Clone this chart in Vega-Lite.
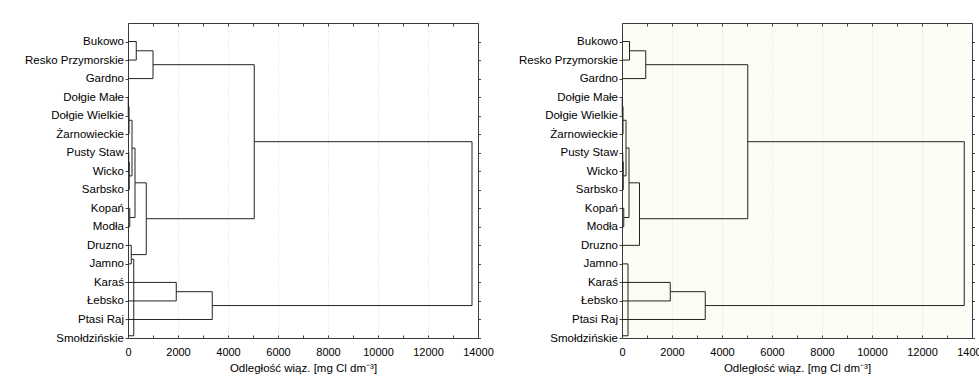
{
  "$schema": "https://vega.github.io/schema/vega-lite/v6.json",
  "autosize": {"type": "pad"},
  "padding": {"left": 23, "top": 22, "right": 5, "bottom": 0},
  "background": "white",
  "config": {"font": "Liberation Sans", "view": {"stroke": "#3a3a3a", "strokeWidth": 1}},
  "datasets": {
    "left": [
      {"x": 0, "x2": 330, "y": 0, "y2": 0}, {"x": 0, "x2": 330, "y": 1, "y2": 1}, {"x": 330, "x2": 330, "y": 0, "y2": 1},
      {"x": 330, "x2": 1000, "y": 0.5, "y2": 0.5}, {"x": 0, "x2": 1000, "y": 2, "y2": 2}, {"x": 1000, "x2": 1000, "y": 0.5, "y2": 2},
      {"x": 1000, "x2": 5050, "y": 1.25, "y2": 1.25},
      {"x": 0, "x2": 10, "y": 3, "y2": 3}, {"x": 0, "x2": 10, "y": 4, "y2": 4}, {"x": 10, "x2": 10, "y": 3, "y2": 4},
      {"x": 10, "x2": 40, "y": 3.5, "y2": 3.5}, {"x": 0, "x2": 40, "y": 5, "y2": 5}, {"x": 40, "x2": 40, "y": 3.5, "y2": 5},
      {"x": 0, "x2": 30, "y": 6, "y2": 6}, {"x": 0, "x2": 30, "y": 7, "y2": 7}, {"x": 30, "x2": 30, "y": 6, "y2": 7},
      {"x": 30, "x2": 50, "y": 6.5, "y2": 6.5}, {"x": 0, "x2": 50, "y": 8, "y2": 8}, {"x": 50, "x2": 50, "y": 6.5, "y2": 8},
      {"x": 40, "x2": 160, "y": 4.25, "y2": 4.25}, {"x": 50, "x2": 160, "y": 7.25, "y2": 7.25}, {"x": 160, "x2": 160, "y": 4.25, "y2": 7.25},
      {"x": 0, "x2": 70, "y": 9, "y2": 9}, {"x": 0, "x2": 70, "y": 10, "y2": 10}, {"x": 70, "x2": 70, "y": 9, "y2": 10},
      {"x": 160, "x2": 280, "y": 5.75, "y2": 5.75}, {"x": 70, "x2": 280, "y": 9.5, "y2": 9.5}, {"x": 280, "x2": 280, "y": 5.75, "y2": 9.5},
      {"x": 0, "x2": 130, "y": 11, "y2": 11}, {"x": 0, "x2": 130, "y": 12, "y2": 12}, {"x": 130, "x2": 130, "y": 11, "y2": 12},
      {"x": 280, "x2": 730, "y": 7.625, "y2": 7.625}, {"x": 130, "x2": 730, "y": 11.5, "y2": 11.5}, {"x": 730, "x2": 730, "y": 7.625, "y2": 11.5},
      {"x": 730, "x2": 5050, "y": 9.5625, "y2": 9.5625}, {"x": 5050, "x2": 5050, "y": 1.25, "y2": 9.5625},
      {"x": 5050, "x2": 13760, "y": 5.406, "y2": 5.406},
      {"x": 0, "x2": 1930, "y": 13, "y2": 13}, {"x": 0, "x2": 1930, "y": 14, "y2": 14}, {"x": 1930, "x2": 1930, "y": 13, "y2": 14},
      {"x": 1930, "x2": 3370, "y": 13.5, "y2": 13.5}, {"x": 0, "x2": 3370, "y": 15, "y2": 15}, {"x": 3370, "x2": 3370, "y": 13.5, "y2": 15},
      {"x": 3370, "x2": 13760, "y": 14.25, "y2": 14.25}, {"x": 13760, "x2": 13760, "y": 5.406, "y2": 14.25},
      {"x": 0, "x2": 230, "y": 15.88, "y2": 15.88}, {"x": 230, "x2": 230, "y": 11.75, "y2": 15.88}, {"x": 130, "x2": 230, "y": 11.75, "y2": 11.75}
    ],
    "right": [
      {"x": 0, "x2": 300, "y": 0, "y2": 0}, {"x": 0, "x2": 300, "y": 1, "y2": 1}, {"x": 300, "x2": 300, "y": 0, "y2": 1},
      {"x": 300, "x2": 950, "y": 0.5, "y2": 0.5}, {"x": 0, "x2": 950, "y": 2, "y2": 2}, {"x": 950, "x2": 950, "y": 0.5, "y2": 2},
      {"x": 950, "x2": 5030, "y": 1.25, "y2": 1.25},
      {"x": 0, "x2": 10, "y": 3, "y2": 3}, {"x": 0, "x2": 10, "y": 4, "y2": 4}, {"x": 10, "x2": 10, "y": 3, "y2": 4},
      {"x": 10, "x2": 40, "y": 3.5, "y2": 3.5}, {"x": 0, "x2": 40, "y": 5, "y2": 5}, {"x": 40, "x2": 40, "y": 3.5, "y2": 5},
      {"x": 0, "x2": 30, "y": 6, "y2": 6}, {"x": 0, "x2": 30, "y": 7, "y2": 7}, {"x": 30, "x2": 30, "y": 6, "y2": 7},
      {"x": 30, "x2": 50, "y": 6.5, "y2": 6.5}, {"x": 0, "x2": 50, "y": 8, "y2": 8}, {"x": 50, "x2": 50, "y": 6.5, "y2": 8},
      {"x": 40, "x2": 160, "y": 4.25, "y2": 4.25}, {"x": 50, "x2": 160, "y": 7.25, "y2": 7.25}, {"x": 160, "x2": 160, "y": 4.25, "y2": 7.25},
      {"x": 0, "x2": 70, "y": 9, "y2": 9}, {"x": 0, "x2": 70, "y": 10, "y2": 10}, {"x": 70, "x2": 70, "y": 9, "y2": 10},
      {"x": 160, "x2": 280, "y": 5.75, "y2": 5.75}, {"x": 70, "x2": 280, "y": 9.5, "y2": 9.5}, {"x": 280, "x2": 280, "y": 5.75, "y2": 9.5},
      {"x": 0, "x2": 700, "y": 11, "y2": 11}, {"x": 280, "x2": 700, "y": 7.625, "y2": 7.625}, {"x": 700, "x2": 700, "y": 7.625, "y2": 11},
      {"x": 700, "x2": 5030, "y": 9.5625, "y2": 9.5625}, {"x": 5030, "x2": 5030, "y": 1.25, "y2": 9.5625},
      {"x": 5030, "x2": 13690, "y": 5.406, "y2": 5.406},
      {"x": 0, "x2": 1930, "y": 13, "y2": 13}, {"x": 0, "x2": 1930, "y": 14, "y2": 14}, {"x": 1930, "x2": 1930, "y": 13, "y2": 14},
      {"x": 1930, "x2": 3330, "y": 13.5, "y2": 13.5}, {"x": 0, "x2": 3330, "y": 15, "y2": 15}, {"x": 3330, "x2": 3330, "y": 13.5, "y2": 15},
      {"x": 3330, "x2": 13690, "y": 14.25, "y2": 14.25}, {"x": 13690, "x2": 13690, "y": 5.406, "y2": 14.25},
      {"x": 0, "x2": 240, "y": 12, "y2": 12}, {"x": 0, "x2": 240, "y": 15.88, "y2": 15.88}, {"x": 240, "x2": 240, "y": 12, "y2": 15.88}
    ]
  },
  "bounds": "flush",
  "spacing": 144,
  "hconcat": [
    {
      "width": 350, "height": 315,
      "data": {"name": "left"},
      "resolve": {"axis": {"x": "independent", "y": "independent"}},
      "layer": [
        {
          "transform": [{"filter": "datum.y === datum.y2"}],
          "mark": {"type": "rule", "color": "#222", "strokeWidth": 1},
          "encoding": {
            "x": {"field": "x", "type": "quantitative", "scale": {"domain": [0, 14000], "nice": false},
              "axis": {"orient": "bottom", "values": [0,1000,2000,3000,4000,5000,6000,7000,8000,9000,10000,11000,12000,13000,14000], "format": "d",
                "labelExpr": "datum.value % 2000 === 0 ? datum.label : ''", "tickSize": -3, "tickColor": "#444", "labelPadding": 11,
                "labelFontSize": 11, "labelColor": "#000", "labelFlush": false, "labelOverlap": false, "domain": false, "grid": false,
                "title": "Odległość wiąz. [mg Cl dm⁻³]", "titleFontSize": 11.5, "titleFontWeight": "normal", "titleColor": "#000", "titlePadding": 5}},
            "x2": {"field": "x2"},
            "y": {"field": "y", "type": "quantitative", "scale": {"domain": [16, -1], "nice": false, "zero": false},
              "axis": {"orient": "left", "values": [0,1,2,3,4,5,6,7,8,9,10,11,12,13,14,15,16],
                "labelExpr": "['Bukowo','Resko Przymorskie','Gardno','Dołgie Małe','Dołgie Wielkie','Żarnowieckie','Pusty Staw','Wicko','Sarbsko','Kopań','Modła','Druzno','Jamno','Karaś','Łebsko','Ptasi Raj','Smołdzińskie'][datum.value]",
                "tickSize": 3, "tickColor": "#444", "labelPadding": 1.5, "labelFontSize": 11.5, "labelColor": "#000", "labelFlush": false, "labelOverlap": false, "labelBound": false,
                "domain": false, "grid": false, "title": null}},
            "y2": {"field": "y2"}
          }
        },
        {
          "transform": [{"filter": "datum.x === datum.x2"}],
          "mark": {"type": "rule", "color": "#222", "strokeWidth": 1},
          "encoding": {
            "x": {"field": "x", "type": "quantitative",
              "axis": {"orient": "top", "values": [0,1000,2000,3000,4000,5000,6000,7000,8000,9000,10000,11000,12000,13000,14000],
                "tickSize": -3, "tickColor": "#444", "labels": false, "domain": false, "title": null,
                "grid": true, "gridColor": "#dcdcdc", "gridDash": [1, 2],
                "gridOpacity": {"condition": {"test": "datum.value % 2000 === 0 && datum.value > 0 && datum.value < 14000", "value": 1}, "value": 0}}},
            "x2": {"field": "x2"},
            "y": {"field": "y", "type": "quantitative",
              "axis": {"orient": "right", "values": [0,1,2,3,4,5,6,7,8,9,10,11,12,13,14,15,16], "tickSize": 2.5, "tickColor": "#444",
                "labels": false, "domain": false, "grid": false, "title": null}},
            "y2": {"field": "y2"}
          }
        }
      ]
    },
    {
      "width": 350, "height": 315,
      "view": {"fill": "#fdfdf6", "stroke": "#3a3a3a", "strokeWidth": 1},
      "data": {"name": "right"},
      "resolve": {"axis": {"x": "independent", "y": "independent"}},
      "layer": [
        {
          "transform": [{"filter": "datum.y === datum.y2"}],
          "mark": {"type": "rule", "color": "#222", "strokeWidth": 1},
          "encoding": {
            "x": {"field": "x", "type": "quantitative", "scale": {"domain": [0, 14000], "nice": false},
              "axis": {"orient": "bottom", "values": [0,1000,2000,3000,4000,5000,6000,7000,8000,9000,10000,11000,12000,13000,14000], "format": "d",
                "labelExpr": "datum.value % 2000 === 0 ? datum.label : ''", "tickSize": -3, "tickColor": "#444", "labelPadding": 11,
                "labelFontSize": 11, "labelColor": "#000", "labelFlush": false, "labelOverlap": false, "domain": false, "grid": false,
                "title": "Odległość wiąz. [mg Cl dm⁻³]", "titleFontSize": 11.5, "titleFontWeight": "normal", "titleColor": "#000", "titlePadding": 5}},
            "x2": {"field": "x2"},
            "y": {"field": "y", "type": "quantitative", "scale": {"domain": [16, -1], "nice": false, "zero": false},
              "axis": {"orient": "left", "values": [0,1,2,3,4,5,6,7,8,9,10,11,12,13,14,15,16],
                "labelExpr": "['Bukowo','Resko Przymorskie','Gardno','Dołgie Małe','Dołgie Wielkie','Żarnowieckie','Pusty Staw','Wicko','Sarbsko','Kopań','Modła','Druzno','Jamno','Karaś','Łebsko','Ptasi Raj','Smołdzińskie'][datum.value]",
                "tickSize": 3, "tickColor": "#444", "labelPadding": 1.5, "labelFontSize": 11.5, "labelColor": "#000", "labelFlush": false, "labelOverlap": false, "labelBound": false,
                "domain": false, "grid": false, "title": null}},
            "y2": {"field": "y2"}
          }
        },
        {
          "transform": [{"filter": "datum.x === datum.x2"}],
          "mark": {"type": "rule", "color": "#222", "strokeWidth": 1},
          "encoding": {
            "x": {"field": "x", "type": "quantitative",
              "axis": {"orient": "top", "values": [0,1000,2000,3000,4000,5000,6000,7000,8000,9000,10000,11000,12000,13000,14000],
                "tickSize": -3, "tickColor": "#444", "labels": false, "domain": false, "title": null,
                "grid": true, "gridColor": "#dcdcdc", "gridDash": [1, 2],
                "gridOpacity": {"condition": {"test": "datum.value % 2000 === 0 && datum.value > 0 && datum.value < 14000", "value": 1}, "value": 0}}},
            "x2": {"field": "x2"},
            "y": {"field": "y", "type": "quantitative",
              "axis": {"orient": "right", "values": [0,1,2,3,4,5,6,7,8,9,10,11,12,13,14,15,16], "tickSize": 2.5, "tickColor": "#444",
                "labels": false, "domain": false, "grid": false, "title": null}},
            "y2": {"field": "y2"}
          }
        }
      ]
    }
  ]
}
